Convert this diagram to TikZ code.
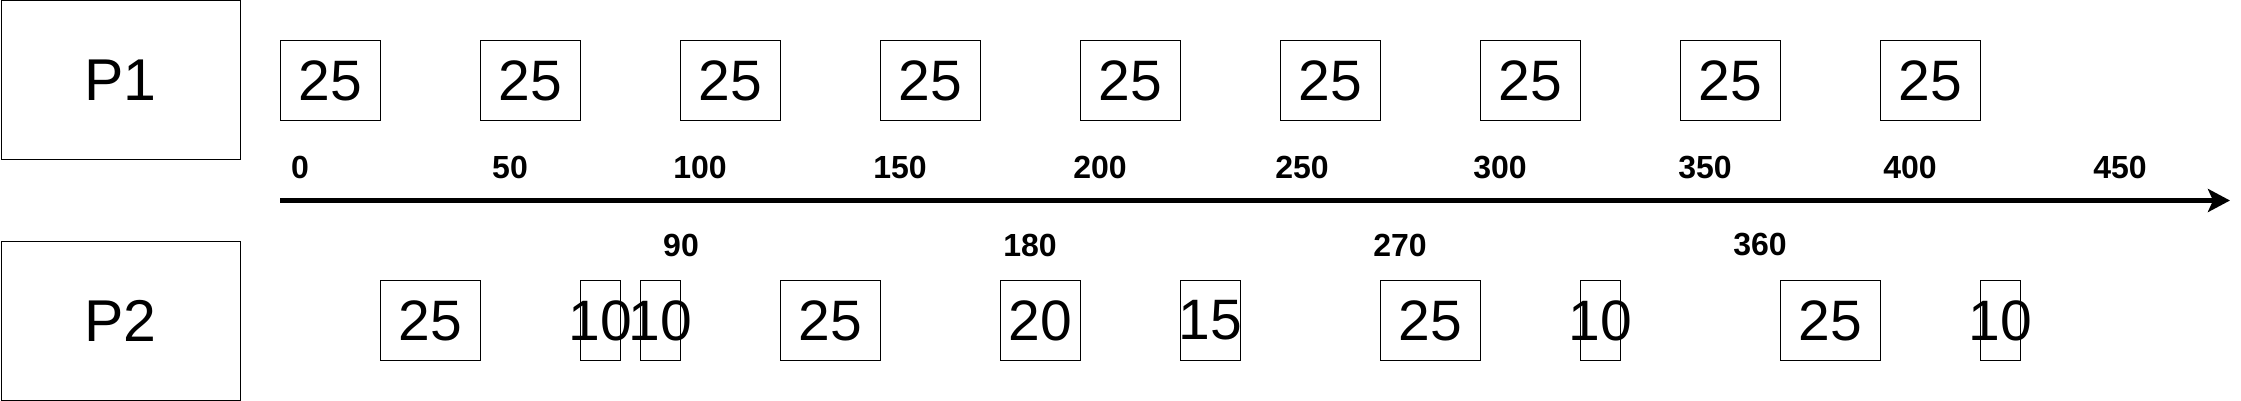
\documentclass[tikz,border=0pt]{standalone}
\usepackage{fontspec}
\setmainfont{Liberation Sans}
\usetikzlibrary{arrows.meta}

\begin{document}
\begin{tikzpicture}
    [x=1pt, y=-1pt,
     every node/.style={inner sep=0pt, font=\fontsize{57}{57}\selectfont},
     procbox/.style={draw, line width=1pt, minimum width=239pt, minimum height=159pt, anchor=north west,
                     font=\fontsize{59}{59}\selectfont},
     slot/.style={draw, line width=1pt, minimum height=80pt, anchor=north west},
     timenum/.style={font=\fontsize{32}{32}\selectfont\bfseries}]

    \useasboundingbox (0,0) rectangle (2241,401);

    \node[procbox] (p1) at (0.5,0.5) {P1};
    \node[procbox] (p2) at (0.5,240.5) {P2};

    % slots of P1
    \foreach \i in {0,...,8}
      \node[slot, minimum width=100pt] (p1-\i) at (280+200*\i,40) {25};

    % slots of P2
    \foreach \s/\w/\d [count=\k] in {380/100/25, 580/40/10, 640/40/10, 780/100/25, 1000/80/20,
                                     1180/60/15, 1380/100/25, 1580/40/10, 1780/100/25, 1980/40/10}
      \node[slot, minimum width=\w pt] (p2-\k) at (\s,280) {\makebox[0pt]{\d}};

    % time axis
    \coordinate (t0) at (280,200.5);
    \coordinate (tend) at (2230,200.5);
    \draw[line width=4.5pt, -{Stealth[length=22pt, width=23pt, inset=5pt]}] (t0) -- (tend);

    \foreach \t/\x in {0/300, 50/510, 100/700, 150/900, 200/1100, 250/1302,
                       300/1500, 350/1705, 400/1910, 450/2120}
      \node[timenum] (up-\t) at (\x,167.5) {\t};

    \foreach \t/\x in {90/681, 180/1030, 270/1400, 360/1760}
      \node[timenum] (down-\t) at (\x,245) {\t};
\end{tikzpicture}
\end{document}
